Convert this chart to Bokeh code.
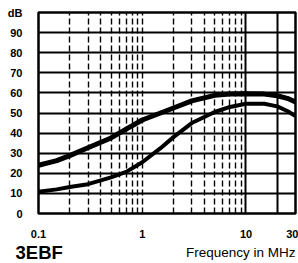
from bokeh.plotting import figure
from bokeh.layouts import column
from bokeh.models import (Range1d, FixedTicker, Grid, Label, CustomJSTickFormatter)
from bokeh.embed import file_html
from bokeh.resources import INLINE

# Data
freq_mhz = [0.1, 0.15, 0.2, 0.3, 0.5, 0.7, 1, 1.5, 2, 3, 5, 7, 10, 15, 20, 25, 30]
upper_db = [24, 26.3, 28.8, 32.7, 37.6, 42, 46.5, 50, 52.5, 56, 58.8, 59.4, 59.6, 59.4, 58.6, 57.3, 55.5]
lower_db = [10.8, 12, 13.2, 14.6, 18, 20.7, 25.5, 32.5, 38, 45, 50.5, 53, 54.6, 54.6, 53.3, 51, 48.5]

x_ticks = [0.1, 1, 10, 30]
y_ticks = [0, 10, 20, 30, 40, 50, 60, 70, 80, 90, 100]
dashed_grid = [0.2, 0.3, 0.4, 0.5, 0.6, 0.7, 0.8, 0.9, 1, 2, 3, 4, 5, 6, 7, 8, 9]
solid_grid = [10, 20]
h_grid = [10, 20, 30, 40, 50, 60, 70, 80, 90]

FONT = "Liberation Sans"

p = figure(width=298, height=240, x_axis_type="log",
           x_range=Range1d(0.1, 30), y_range=Range1d(0, 100),
           output_backend="svg", toolbar_location=None,
           min_border_left=38, min_border_right=3, min_border_top=12, min_border_bottom=23,
           background_fill_color="white", border_fill_color="white")
p.frame_align = False

p.outline_line_color = "black"
p.outline_line_width = 2.5

# axes
p.xaxis.ticker = FixedTicker(ticks=x_ticks)
p.xaxis.formatter = CustomJSTickFormatter(code="return tick.toString();")
p.yaxis.ticker = FixedTicker(ticks=y_ticks)
p.yaxis.formatter = CustomJSTickFormatter(code="return tick == 100 ? 'dB' : tick.toString();")
for ax in (p.xaxis, p.yaxis):
    ax.axis_line_color = None
    ax.major_tick_line_color = None
    ax.minor_tick_line_color = None
    ax.major_label_text_font = FONT
    ax.major_label_text_font_style = "bold"
    ax.major_label_text_font_size = "11px"
    ax.major_label_text_color = "black"
p.yaxis.major_label_standoff = 10
p.xaxis.major_label_standoff = 10

# grids
p.xgrid.visible = False
p.ygrid.ticker = FixedTicker(ticks=h_grid)
p.ygrid.grid_line_color = "black"
p.ygrid.grid_line_width = 2
p.ygrid.grid_line_alpha = 1

p.add_layout(Grid(dimension=0, ticker=FixedTicker(ticks=dashed_grid),
                  grid_line_color="black", grid_line_width=1.4, grid_line_dash="6 3"))
p.add_layout(Grid(dimension=0, ticker=FixedTicker(ticks=solid_grid),
                  grid_line_color="black", grid_line_width=2))

# curves
p.line(freq_mhz, upper_db, line_color="black", line_width=5, line_join="round", line_cap="round")
p.line(freq_mhz, lower_db, line_color="black", line_width=4, line_join="round", line_cap="round")

# caption strip below the chart
q = figure(width=298, height=23, x_range=Range1d(0, 1), y_range=Range1d(0, 1),
           output_backend="svg", toolbar_location=None,
           x_axis_location=None, y_axis_location=None, min_border=0,
           background_fill_color="white", border_fill_color="white")
q.frame_align = False
q.outline_line_color = None
q.grid.visible = False
q.add_layout(Label(x=15, y=11, x_units="screen", y_units="screen", text="3EBF",
                   text_font=FONT, text_font_style="bold", text_font_size="18.5px",
                   text_color="black", text_baseline="alphabetic", text_align="left"))
q.add_layout(Label(x=295, y=11, x_units="screen", y_units="screen", text="Frequency in MHz",
                   text_font=FONT, text_font_size="13.5px",
                   text_color="black", text_baseline="alphabetic", text_align="right"))

layout = column(p, q, spacing=0)
open("out.html", "w").write(file_html(layout, INLINE))
